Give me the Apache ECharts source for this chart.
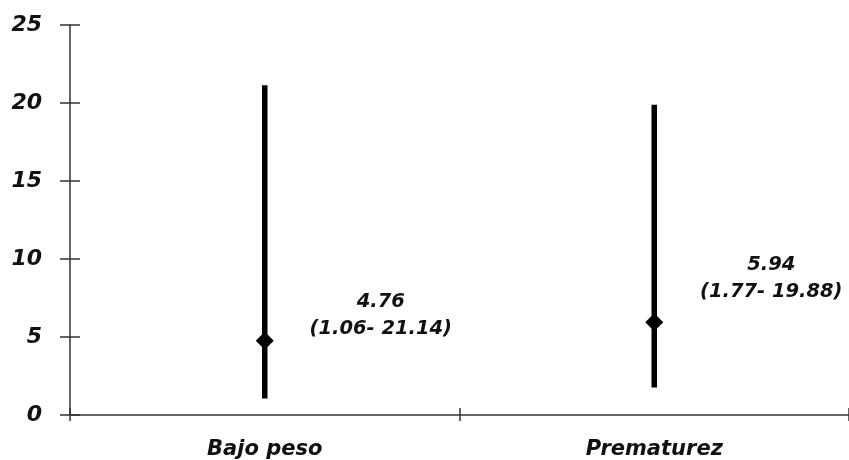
<!DOCTYPE html>
<html>
<head>
<meta charset="utf-8">
<script src="https://cdn.jsdelivr.net/npm/echarts@6/dist/echarts.min.js"></script>
<style>html,body{margin:0;padding:0;background:#fff;}#c{width:849px;height:460px;}</style>
</head>
<body>
<div id="c"></div>
<script>
const categories = ['Bajo peso', 'Prematurez'];
const means = [4.76, 5.94];
const lows = [1.06, 1.77];
const highs = [21.14, 19.88];
const yTicks = [0, 5, 10, 15, 20, 25];

const chart = echarts.init(document.getElementById('c'));
const font = 'DejaVu Sans';
const labelOffsets = [[116, -25], [117, -44]];

chart.setOption({
  animation: false,
  backgroundColor: '#fff',
  grid: { left: 70, right: 0, top: 25, bottom: 45 },
  xAxis: [{
    type: 'category', data: categories, boundaryGap: true,
    axisLine: { lineStyle: { color: '#333', width: 1.5 } },
    axisTick: { show: true, length: 6, lineStyle: { color: '#333', width: 1.5 } },
    axisLabel: { margin: 24, color: '#111', fontFamily: font, fontWeight: 'bold', fontStyle: 'italic', fontSize: 21 }
  }, {
    type: 'category', data: categories, boundaryGap: true, position: 'bottom',
    axisLine: { show: false },
    axisTick: { show: true, inside: true, length: 7, lineStyle: { color: '#333', width: 1.5 } },
    axisLabel: { show: false }
  }],
  yAxis: [{
    type: 'value', min: yTicks[0], max: yTicks[yTicks.length - 1], interval: 5,
    axisLine: { show: true, lineStyle: { color: '#333', width: 1.5 } },
    axisTick: { show: true, length: 10, lineStyle: { color: '#333', width: 1.5 } },
    splitLine: { show: false },
    axisLabel: { margin: 28, color: '#111', fontFamily: font, fontWeight: 'bold', fontStyle: 'italic', fontSize: 22 }
  }, {
    type: 'value', min: yTicks[0], max: yTicks[yTicks.length - 1], interval: 5, position: 'left',
    axisLine: { show: false },
    axisTick: { show: true, inside: true, length: 10, lineStyle: { color: '#333', width: 1.5 } },
    splitLine: { show: false },
    axisLabel: { show: false }
  }],
  series: [{
    type: 'custom',
    xAxisIndex: 0, yAxisIndex: 0,
    encode: { x: 0, y: [1, 2] },
    data: categories.map((c, i) => [i, lows[i], highs[i]]),
    renderItem: function (params, api) {
      const x = api.value(0);
      const lo = api.coord([x, api.value(1)]);
      const hi = api.coord([x, api.value(2)]);
      return {
        type: 'line',
        shape: { x1: lo[0], y1: lo[1], x2: hi[0], y2: hi[1] },
        style: { stroke: '#000', lineWidth: 5.5 }
      };
    },
    z: 2
  }, {
    type: 'scatter',
    xAxisIndex: 0, yAxisIndex: 0,
    symbol: 'diamond', symbolSize: 18,
    itemStyle: { color: '#000', opacity: 1 },
    data: means.map((m, i) => ({
      value: [i, m],
      label: {
        show: true, position: 'inside', offset: labelOffsets[i],
        formatter: m.toFixed(2) + '\n(' + lows[i].toFixed(2) + '- ' + highs[i].toFixed(2) + ')',
        color: '#111', textBorderWidth: 0, textBorderColor: 'transparent', textShadowBlur: 0,
        fontFamily: font, fontWeight: 'bold', fontStyle: 'italic',
        fontSize: 19.5, lineHeight: 27, align: 'center', verticalAlign: 'middle'
      }
    })),
    z: 3
  }]
});
</script>
</body>
</html>
